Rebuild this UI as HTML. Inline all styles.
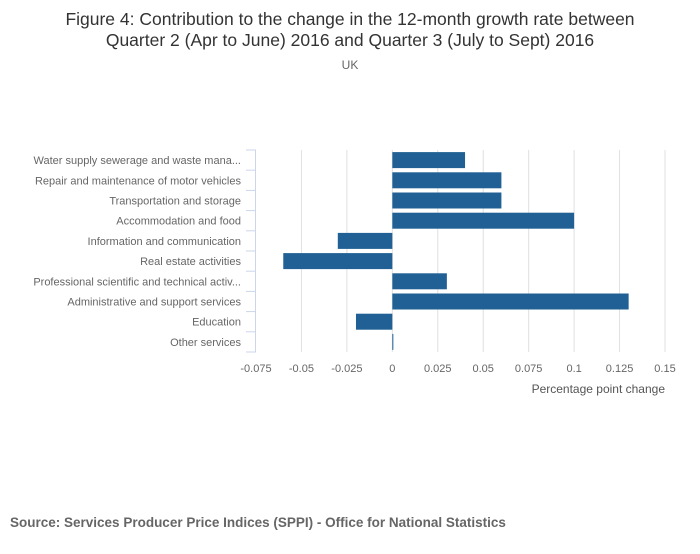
<!DOCTYPE html>
<html><head><meta charset="utf-8"><style>
body{margin:0;background:#fff;}
svg text{font-family:"Liberation Sans",sans-serif;}
</style></head><body>
<svg width="700" height="549" xmlns="http://www.w3.org/2000/svg">
<text x="350" y="25" text-anchor="middle" font-size="17.5" fill="#333">Figure 4: Contribution to the change in the 12-month growth rate between</text>
<text x="350" y="46" text-anchor="middle" font-size="17.5" fill="#333">Quarter 2 (Apr to June) 2016 and Quarter 3 (July to Sept) 2016</text>
<text x="350" y="69" text-anchor="middle" font-size="12" fill="#666">UK</text>
<g id="grid"></g><g id="bars"></g><g id="yaxis"></g><g id="xaxis"></g>
<text x="665" y="393" text-anchor="end" font-size="12" fill="#555">Percentage point change</text>
<text x="10" y="527" font-size="13.5" font-weight="bold" fill="#666">Source: Services Producer Price Indices (SPPI) - Office for National Statistics</text>
</svg>
<script>
const categories=["Water supply sewerage and waste mana...","Repair and maintenance of motor vehicles","Transportation and storage","Accommodation and food","Information and communication","Real estate activities","Professional scientific and technical activ...","Administrative and support services","Education","Other services"];
const values=[0.04,0.06,0.06,0.1,-0.03,-0.06,0.03,0.13,-0.02,0.0005];
const ticks=[-0.075,-0.05,-0.025,0,0.025,0.05,0.075,0.1,0.125,0.15];
const tickLabels=["-0.075","-0.05","-0.025","0","0.025","0.05","0.075","0.1","0.125","0.15"];
const NS="http://www.w3.org/2000/svg";
const x0=256,x1=665,yTop=150,yBottom=352;
const xs=v=>x0+(v-ticks[0])/(ticks[ticks.length-1]-ticks[0])*(x1-x0);
const step=(yBottom-yTop)/categories.length;
function mk(t,a,p){const e=document.createElementNS(NS,t);for(const k in a)e.setAttribute(k,a[k]);p.appendChild(e);return e;}
const grid=document.getElementById('grid'),bars=document.getElementById('bars'),ya=document.getElementById('yaxis'),xa=document.getElementById('xaxis');
ticks.forEach((t,i)=>{
 if(i>0){const g=mk('line',{x1:xs(t),x2:xs(t),y1:yTop,y2:yBottom,stroke:'#e0e0e0','stroke-width':1},grid);
 
 }
 const l=mk('text',{x:xs(t),y:372,'text-anchor':'middle','font-size':11,fill:'#666'},xa);l.textContent=tickLabels[i];
 
 
});
const ax=mk('line',{x1:x0-0.5,x2:x0-0.5,y1:yTop,y2:yBottom,stroke:'#ccd6eb','stroke-width':1},ya);


for(let i=0;i<=categories.length;i++){const y=yTop+i*step;
 const tk=mk('line',{x1:x0-10,x2:x0,y1:y,y2:y,stroke:'#ccd6eb','stroke-width':1},ya);
 
 }
categories.forEach((c,i)=>{
 const cy=yTop+(i+0.5)*step;
 const t=mk('text',{x:241,y:cy+4,'text-anchor':'end','font-size':11,fill:'#666'},ya);t.textContent=c;
 
 
 const v=values[i],a=xs(0),b=xs(v);
 const r=mk('rect',{x:Math.min(a,b),y:cy-8,width:Math.max(Math.abs(b-a),1),height:16,fill:'#206095'},bars);
 
 
});
</script>
</body></html>
